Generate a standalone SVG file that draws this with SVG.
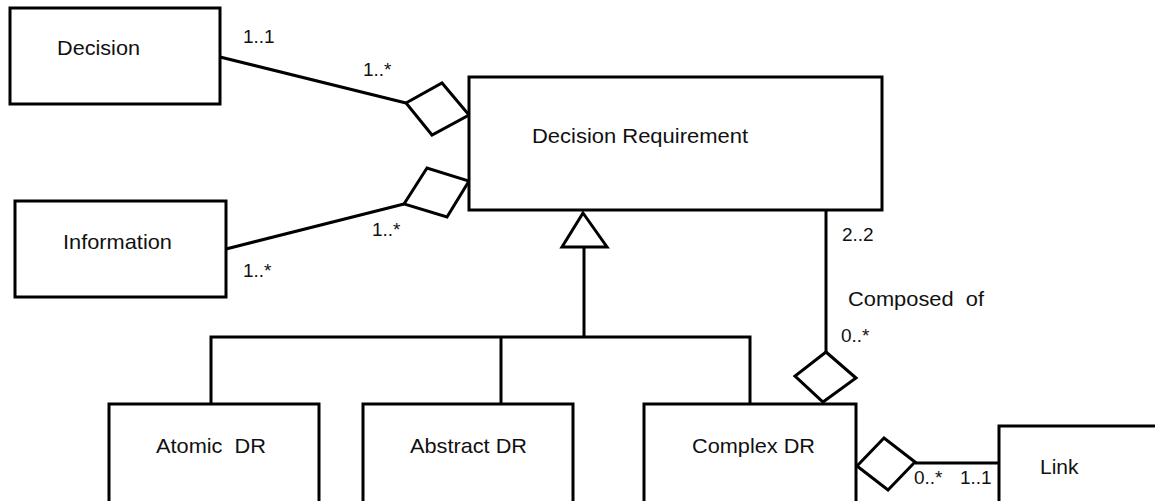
<svg xmlns="http://www.w3.org/2000/svg" width="1155" height="501" viewBox="0 0 1155 501">
  <style>
    .box { fill: #ffffff; stroke: #000000; stroke-width: 3; }
    .line { fill: none; stroke: #000000; stroke-width: 3; }
    .head { fill: #ffffff; stroke: #000000; stroke-width: 3; stroke-linejoin: miter; }
    .name { font-family: "Liberation Sans", Arial, sans-serif; font-size: 21px; fill: #111111; white-space: pre; }
    .mult { font-family: "Liberation Sans", Arial, sans-serif; font-size: 19px; fill: #111111; white-space: pre; }
  </style>
  <rect width="1155" height="501" fill="#ffffff"/>

  <!-- connectors: associations, aggregation diamonds, generalization tree -->
  <g id="connectors">
    <!-- Decision to Decision Requirement -->
    <line class="line" x1="220" y1="57" x2="406" y2="103"/>
    <polygon class="head" points="406,103 442,83 469,115 432,135"/>
    <!-- Information to Decision Requirement -->
    <line class="line" x1="226" y1="249" x2="404" y2="204"/>
    <polygon class="head" points="404,204 427,168 469,181 447,217"/>
    <!-- generalization -->
    <polygon class="head" points="583,213 607,247 562,247"/>
    <polyline class="line" points="584,247 584,337"/>
    <polyline class="line" points="211,404 211,337 750,337 750,404"/>
    <line class="line" x1="501" y1="337" x2="501" y2="404"/>
    <!-- composition: Decision Requirement to Complex DR -->
    <line class="line" x1="826" y1="210" x2="826" y2="352"/>
    <polygon class="head" points="826,352 856,378 823,402 795,376"/>
    <!-- Complex DR to Link -->
    <line class="line" x1="915" y1="463" x2="999" y2="463"/>
    <polygon class="head" points="857,466 884,438 915,462 888,490"/>
    <!-- multiplicities and role text -->
    <text class="mult" x="243" y="43">1..1</text>
    <text class="mult" x="363" y="76">1..*</text>
    <text class="mult" x="372" y="236">1..*</text>
    <text class="mult" x="243" y="277">1..*</text>
    <text class="mult" x="842" y="241">2..2</text>
    <text class="name" x="848" y="306" textLength="136" lengthAdjust="spacingAndGlyphs">Composed  of</text>
    <text class="mult" x="841" y="342">0..*</text>
    <text class="mult" x="914" y="484">0..*</text>
    <text class="mult" x="960" y="484">1..1</text>
  </g>

  <g id="decision">
    <rect class="box" x="10" y="8" width="210" height="96"/>
    <text class="name" x="57" y="55" textLength="83" lengthAdjust="spacingAndGlyphs">Decision</text>
  </g>
  <g id="information">
    <rect class="box" x="15" y="201" width="211" height="96"/>
    <text class="name" x="63" y="249" textLength="109" lengthAdjust="spacingAndGlyphs">Information</text>
  </g>
  <g id="decision-requirement">
    <rect class="box" x="469" y="77" width="413" height="133"/>
    <text class="name" x="532" y="143" textLength="216" lengthAdjust="spacingAndGlyphs">Decision Requirement</text>
  </g>
  <g id="atomic-dr">
    <rect class="box" x="109" y="404" width="210" height="110"/>
    <text class="name" x="156" y="453" textLength="110" lengthAdjust="spacingAndGlyphs">Atomic  DR</text>
  </g>
  <g id="abstract-dr">
    <rect class="box" x="363" y="404" width="210" height="110"/>
    <text class="name" x="410" y="453" textLength="117" lengthAdjust="spacingAndGlyphs">Abstract DR</text>
  </g>
  <g id="complex-dr">
    <rect class="box" x="644" y="404" width="212" height="110"/>
    <text class="name" x="692" y="453" textLength="123" lengthAdjust="spacingAndGlyphs">Complex DR</text>
  </g>
  <g id="link">
    <rect class="box" x="999" y="426" width="170" height="90"/>
    <text class="name" x="1040" y="474">Link</text>
  </g>
</svg>
